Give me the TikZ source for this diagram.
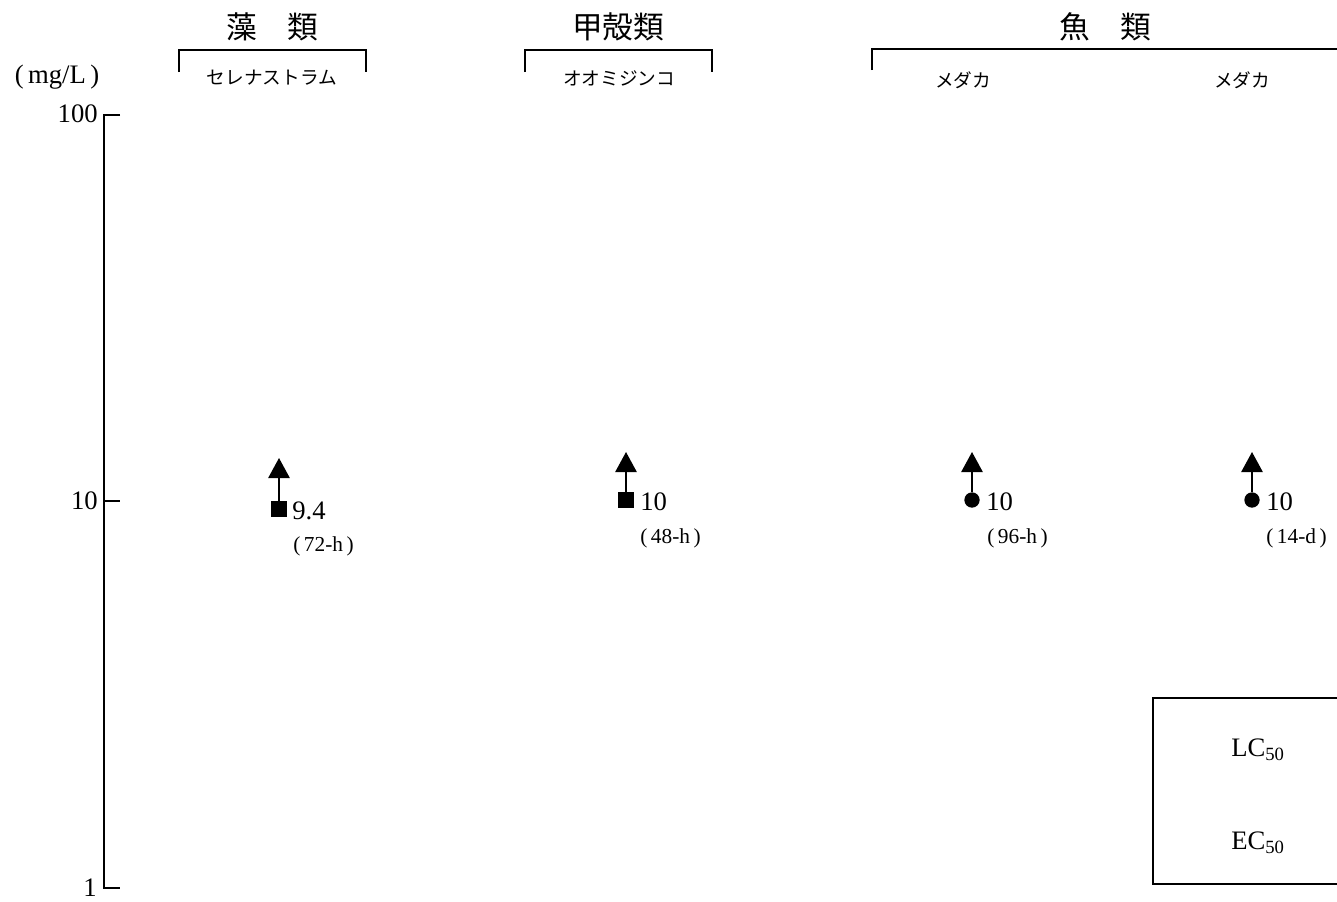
\documentclass[tikz,border=0pt]{standalone}
\usepackage{fontspec}
\setmainfont{Liberation Serif}
\newfontfamily\jp{Noto Sans CJK JP}
\usetikzlibrary{arrows.meta}
\tikzset{
  axisline/.style={line width=1.5pt},
  brk/.style={line width=1.5pt},
  title/.style={font=\jp\fontsize{23}{23}\selectfont, inner sep=0pt},
  sub/.style={font=\jp\fontsize{14}{14}\selectfont, inner sep=0pt},
  num/.style={font=\fontsize{20}{20}\selectfont, inner sep=0pt},
  dur/.style={font=\fontsize{16}{16}\selectfont, inner sep=0pt},
  sq/.style={rectangle, fill=black, minimum size=11.5pt, inner sep=0pt},
  dot/.style={circle, fill=black, minimum size=11.5pt, inner sep=0pt},
  up/.style={line width=1.2pt, -{Triangle[width=16pt,length=15pt]}},
  legend/.style={line width=1.2pt},
}
\begin{document}
\begin{tikzpicture}[x=0.75pt,y=-0.75pt]
\useasboundingbox (0,0) rectangle (1337,901);
\clip (0,0) rectangle (1337,901);
% axis
\coordinate (ytop) at (104,115);
\coordinate (ybot) at (104,888);
\draw[axisline] (120,115) -- (ytop) -- (ybot) -- (120,888);
\draw[axisline] (104,501) -- (120,501);
\node[num, anchor=east] (l100) at (98,114) {100};
\node[num, anchor=east] (l10) at (98,501) {10};
\node[num, anchor=east] (l1) at (97,888) {1};
\node[num, anchor=center] (unit) at (57,77) {(\,mg/L\,)};
% group titles and brackets
\node[title] (t1) at (272,27) {藻　類};
\draw[brk] (179,72) -- (179,50) -- (366,50) -- (366,72);
\node[sub] (s1) at (272,78) {セレナストラム};
\node[title] (t2) at (618,27) {甲殻類};
\draw[brk] (525,72) -- (525,50) -- (712,50) -- (712,72);
\node[sub] (s2) at (619,78) {オオミジンコ};
\node[title] (t3) at (1105,27) {魚　類};
\draw[brk] (872,70) -- (872,49) -- (1360,49);
\node[sub] (s3) at (963,80) {メダカ};
\node[sub] (s4) at (1242,80) {メダカ};
% data points
\node[sq] (p1) at (279,509) {};
\coordinate (a1) at (279,458);
\draw[up] (p1.north) -- (a1);
\node[num, anchor=west] (v1) at (292,511) {9.4};
\node[dur, anchor=west] (d1) at (293,546) {(\,72-h\,)};
\node[sq] (p2) at (626,500) {};
\coordinate (a2) at (626,452);
\draw[up] (p2.north) -- (a2);
\node[num, anchor=west] (v2) at (640,502) {10};
\node[dur, anchor=west] (d2) at (640,538) {(\,48-h\,)};
\node[dot] (p3) at (972,500) {};
\coordinate (a3) at (972,452);
\draw[up] (p3.north) -- (a3);
\node[num, anchor=west] (v3) at (986,502) {10};
\node[dur, anchor=west] (d3) at (987,538) {(\,96-h\,)};
\node[dot] (p4) at (1252,500) {};
\coordinate (a4) at (1252,452);
\draw[up] (p4.north) -- (a4);
\node[num, anchor=west] (v4) at (1266,502) {10};
\node[dur, anchor=west] (d4) at (1266,538) {(\,14-d\,)};
% legend box
\draw[legend] (1360,698) -- (1153,698) -- (1153,884) -- (1360,884);
\node[num] (lc) at (1258,750) {LC\textsubscript{50}};
\node[num] (ec) at (1258,843) {EC\textsubscript{50}};
\end{tikzpicture}
\end{document}
